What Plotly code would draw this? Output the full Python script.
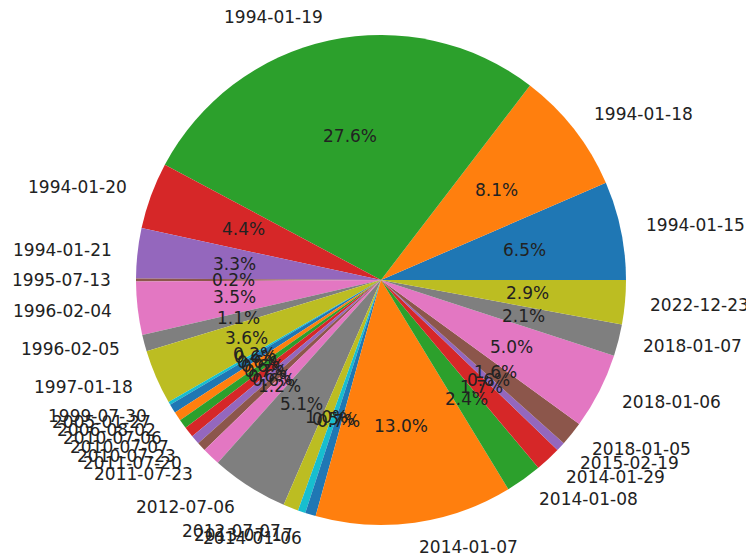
import math
import plotly.graph_objects as go

# slice labels (dates) and their shares, in drawing order
dates = ["1994-01-15", "1994-01-18", "1994-01-19", "1994-01-20", "1994-01-21",
         "1995-07-13", "1996-02-04", "1996-02-05", "1997-01-18", "1999-07-30",
         "2005-01-27", "2006-08-02", "2010-07-06", "2010-07-07", "2010-07-23",
         "2011-07-20", "2011-07-23", "2012-07-06", "2012-07-07", "2013-07-17",
         "2014-01-06", "2014-01-07", "2014-01-08", "2014-01-29", "2015-02-19",
         "2018-01-05", "2018-01-06", "2018-01-07", "2022-12-23"]
shares = [6.5, 8.1, 27.6, 4.4, 3.3, 0.2, 3.5, 1.1, 3.6, 0.2,
          0.6, 0.6, 0.6, 0.7, 0.6, 0.6, 1.2, 5.1, 1.0, 0.5,
          0.7, 13.0, 2.4, 1.7, 0.6, 1.6, 5.0, 2.1, 2.9]

tab10 = ["#1f77b4", "#ff7f0e", "#2ca02c", "#d62728", "#9467bd",
         "#8c564b", "#e377c2", "#7f7f7f", "#bcbd22", "#17becf"]
colors = [tab10[i % 10] for i in range(len(dates))]

# the page body has an 8px margin, so the figure is a bit smaller than the window
PAD = 8
W, H = 754 - PAD, 556 - PAD
cx, cy, r = 381 - PAD, 280 - PAD, 245
font = dict(family="DejaVu Sans", size=17, color="#222222")

total = sum(shares)
# plotly's counterclockwise pie ends the first slice at `rotation`,
# so shift it to make the first slice start at 3 o'clock like matplotlib
rot = 90 - 360 * shares[0] / total

fig = go.Figure(go.Pie(
    labels=dates, values=shares, sort=False,
    direction="counterclockwise", rotation=rot,
    marker=dict(colors=colors, line=dict(width=0)),
    textinfo="none", showlegend=False,
    domain=dict(x=[(cx - r) / W, (cx + r) / W],
                y=[(H - cy - r) / H, (H - cy + r) / H]),
))

# matplotlib-style labels: names at 1.1 r, percentages at 0.6 r
start = 0.0
for name, v in zip(dates, shares):
    mid = (start + v / 2) / total * 2 * math.pi
    start += v
    c, s = math.cos(mid), math.sin(mid)
    lx, ly = cx + 1.1 * r * c, cy - 1.1 * r * s
    fig.add_annotation(x=lx / W, y=1 - ly / H, xref="paper", yref="paper",
                       text=name, showarrow=False, borderpad=0,
                       xanchor="left" if c > 0 else "right", yanchor="middle",
                       font=font)
    px_, py_ = cx + 0.6 * r * c, cy - 0.6 * r * s
    fig.add_annotation(x=px_ / W, y=1 - py_ / H, xref="paper", yref="paper",
                       text=f"{v / total * 100:.1f}%", showarrow=False, borderpad=0,
                       xanchor="center", yanchor="middle", font=font)

fig.update_layout(width=W, height=H, margin=dict(l=0, r=0, t=0, b=0),
                  paper_bgcolor="white", plot_bgcolor="white")
fig.write_html("out.html")
